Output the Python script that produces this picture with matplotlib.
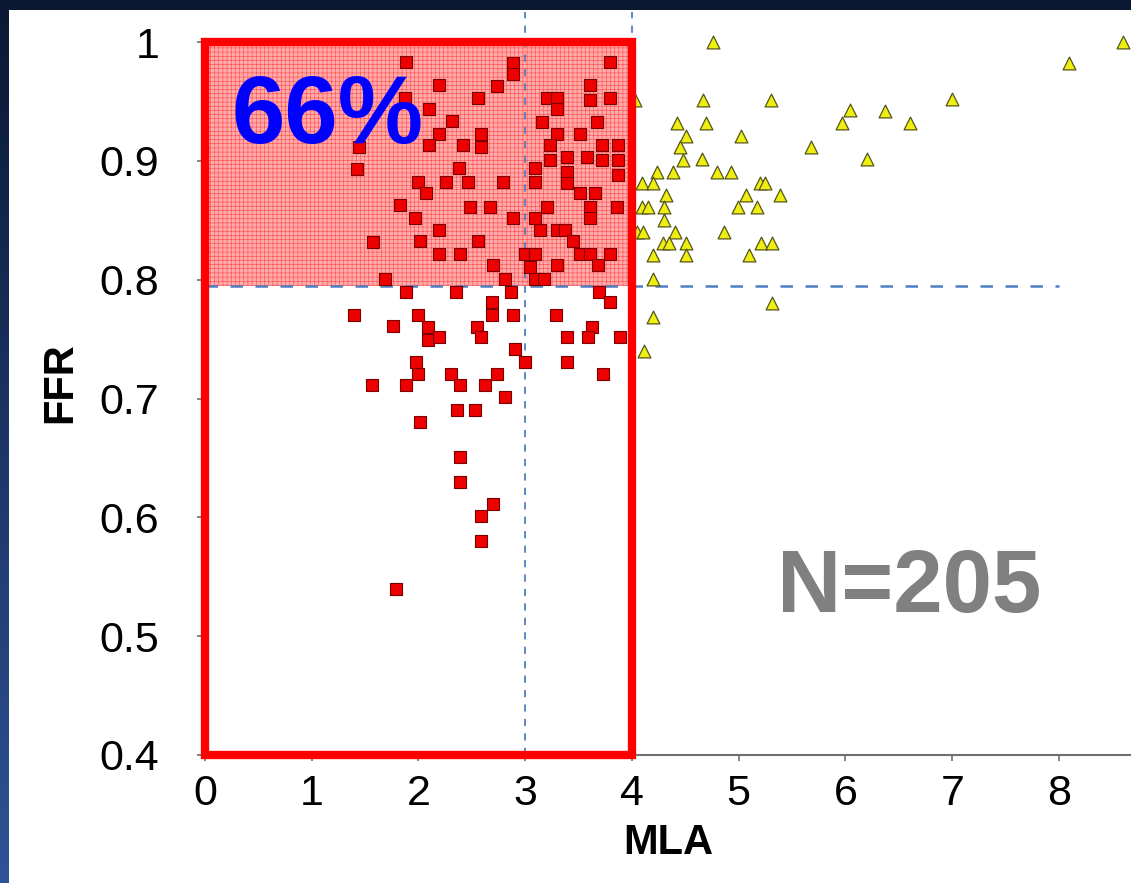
import numpy as np
import matplotlib
matplotlib.use('Agg')
import matplotlib.pyplot as plt
from matplotlib.patches import Rectangle
from matplotlib.colors import LinearSegmentedColormap

plt.rcParams['font.family'] = ['Liberation Sans', 'DejaVu Sans']
plt.rcParams['hatch.linewidth'] = 0.4

# ── data (MLA, FFR) ──────────────────────────────────────────────────────────
red_mla = [2.89, 2.89, 3.79, 2.19, 2.74, 2.56, 2.10, 2.31, 2.19, 2.10, 2.42, 2.59, 2.59,
           2.38, 2.00, 2.26, 2.46, 2.79, 2.07, 2.48, 2.67,
           3.20, 3.30, 3.30, 3.61, 3.61, 3.79, 3.16, 3.67, 3.30, 3.51, 3.23, 3.23, 3.39,
           3.39, 3.39, 3.58, 3.72, 3.72, 3.87, 3.87, 3.87, 3.09, 3.09, 3.51, 3.65, 3.20,
           3.61, 3.86,
           1.88, 1.87, 1.44, 1.42, 1.83,
           1.97, 2.89, 3.09, 3.61, 2.19, 3.14, 3.30, 3.37, 1.57, 2.01, 2.56, 3.45, 2.19,
           2.39, 3.00, 3.09, 3.51, 3.61, 3.79, 2.70, 3.04, 3.30, 3.68, 1.69, 2.81, 3.09,
           3.18,
           1.88, 2.35, 2.87, 3.69, 3.79, 2.69, 2.69, 1.40, 2.00, 2.89, 3.29, 1.76, 2.09,
           2.09, 2.19, 2.55, 2.59, 3.39, 3.63, 3.59, 3.89, 2.90, 1.98, 2.00, 3.00, 3.39,
           2.30, 2.74, 3.73, 1.56, 1.88, 2.39, 2.62, 2.81, 2.36, 2.53, 2.01, 2.39, 2.39,
           2.70, 2.59, 2.59, 1.79]
red_ffr = [0.982, 0.973, 0.983, 0.964, 0.963, 0.953, 0.944, 0.934, 0.923, 0.913, 0.913,
           0.923, 0.912, 0.894, 0.882, 0.882, 0.882, 0.882, 0.873, 0.861, 0.861,
           0.953, 0.953, 0.944, 0.964, 0.951, 0.953, 0.933, 0.933, 0.923, 0.923, 0.913,
           0.901, 0.903, 0.891, 0.881, 0.903, 0.913, 0.901, 0.913, 0.901, 0.888, 0.894,
           0.882, 0.873, 0.873, 0.861, 0.861, 0.861,
           0.983, 0.953, 0.912, 0.893, 0.863,
           0.852, 0.852, 0.852, 0.852, 0.842, 0.842, 0.842, 0.842, 0.832, 0.833, 0.833,
           0.833, 0.822, 0.822, 0.822, 0.822, 0.822, 0.822, 0.822, 0.812, 0.811, 0.812,
           0.812, 0.801, 0.801, 0.801, 0.801,
           0.790, 0.790, 0.790, 0.790, 0.781, 0.781, 0.770, 0.770, 0.770, 0.770, 0.770,
           0.761, 0.760, 0.749, 0.752, 0.760, 0.752, 0.752, 0.760, 0.752, 0.752, 0.742,
           0.731, 0.721, 0.731, 0.731, 0.721, 0.721, 0.721, 0.711, 0.711, 0.711, 0.711,
           0.701, 0.690, 0.690, 0.680, 0.651, 0.630, 0.611, 0.601, 0.580, 0.540]

yel_mla = [4.76, 4.03, 4.67, 5.30, 6.04, 5.97, 4.42, 4.69, 4.51, 5.02, 4.45, 5.68, 4.48,
           4.66, 6.20, 4.23, 4.38, 4.80, 4.93, 4.09, 4.20, 5.20, 5.25, 4.32, 5.07, 5.39,
           4.09, 4.15, 4.30, 4.99, 5.17, 4.30, 4.05, 4.10, 4.40, 4.86, 4.29, 4.35, 4.51,
           5.21, 5.31, 4.20, 4.51, 5.10, 4.20, 5.31, 4.20, 4.11,
           8.60, 8.09, 7.00, 6.37, 6.60]
yel_ffr = [1.000, 0.951, 0.951, 0.951, 0.943, 0.932, 0.932, 0.932, 0.921, 0.921, 0.912,
           0.912, 0.901, 0.902, 0.902, 0.891, 0.891, 0.891, 0.891, 0.881, 0.881, 0.881,
           0.881, 0.871, 0.871, 0.871, 0.861, 0.861, 0.861, 0.861, 0.861, 0.850, 0.840,
           0.840, 0.840, 0.840, 0.831, 0.831, 0.831, 0.831, 0.831, 0.821, 0.821, 0.821,
           0.801, 0.780, 0.769, 0.740,
           1.000, 0.982, 0.952, 0.942, 0.932]

MLA_CUT, MLA_BOX, FFR_CUT = 3.0, 4.0, 0.795
pct_label = "66%"
n_label = "N=205"

W, H = 1131, 883
fig = plt.figure(figsize=(W / 100, H / 100), dpi=100)

# ── dark blue frame with gradient, white panel ───────────────────────────────
bg = fig.add_axes([0, 0, 1, 1], zorder=-10)
grad = np.linspace(0, 1, 256)[:, None]
frame_cmap = LinearSegmentedColormap.from_list("frame", ["#0a1832", "#1c3566", "#2f5396"])
bg.imshow(grad, aspect="auto", cmap=frame_cmap, extent=[0, 1, 0, 1])
bg.add_patch(Rectangle((9 / W, 0), 1, 1 - 10 / H, transform=bg.transAxes,
                       facecolor="white", edgecolor="none"))
bg.set_xlim(0, 1); bg.set_ylim(0, 1)
bg.axis("off")

# ── main axes ────────────────────────────────────────────────────────────────
ax = fig.add_axes([205 / W, (H - 755) / H, 926 / W, 745 / H])
ax.patch.set_alpha(0)
ax.set_xlim(0, 8.675)
ax.set_ylim(0.4, 1.027)

# shaded quadrant
ax.add_patch(Rectangle((0, FFR_CUT), MLA_BOX, 1.0 - FFR_CUT, facecolor="#ffabab",
                       edgecolor="#ff4a4a", hatch="++++", lw=0, zorder=1))

# dashed guides
ax.plot([MLA_CUT, MLA_CUT], [0.4, 1.025], ls=(0, (4, 4)), color="#4f7fc0", lw=1.3, zorder=2,
        clip_on=False)
ax.plot([MLA_BOX, MLA_BOX], [0.4, 1.025], ls=(0, (4, 4)), color="#4f7fc0", lw=1.3, zorder=2,
        clip_on=False)
ax.plot([0, 8.0], [FFR_CUT, FFR_CUT], ls=(0, (5, 5)), color="#4f7fc0", lw=1.8, zorder=2)

ax.scatter(red_mla, red_ffr, marker="s", s=80, color="#ee0000", edgecolor="#7a0000",
           linewidths=0.8, zorder=4)
ax.scatter(yel_mla, yel_ffr, marker="^", s=85, color="#eeee10", edgecolor="#55551e",
           linewidths=0.9, zorder=4, clip_on=False)

# red frame
ax.add_patch(Rectangle((0, 0.4), MLA_BOX, 0.6, facecolor="none", edgecolor="#ff0000",
                       lw=6, zorder=6, clip_on=False))

ax.text(0.25, 0.936, pct_label, color="#0000ff", fontsize=69, fontweight="bold",
        ha="left", va="center", zorder=7)
ax.text(6.60, 0.540, n_label, color="#808080", fontsize=64, fontweight="bold",
        ha="center", va="center", zorder=7)

for s in ["top", "right"]:
    ax.spines[s].set_visible(False)
for s in ["left", "bottom"]:
    ax.spines[s].set_color("#707070")
    ax.spines[s].set_linewidth(1.5)
ax.spines["left"].set_bounds(0.4, 1.0)

ax.set_xticks(range(0, 9))
ax.set_yticks([0.4, 0.5, 0.6, 0.7, 0.8, 0.9, 1.0])
ax.set_yticklabels(["0.4", "0.5", "0.6", "0.7", "0.8", "0.9", "1"])
ax.tick_params(axis="y", length=6, width=1.2, color="#707070", pad=27, labelsize=31)
ax.tick_params(axis="x", length=4, width=1.2, color="#707070", pad=10, labelsize=31)

ax.set_xlabel("MLA", fontsize=30, fontweight="bold", labelpad=6)
ax.set_ylabel("FFR", fontsize=30, fontweight="bold", labelpad=14)

plt.savefig("out.png", dpi=100)
